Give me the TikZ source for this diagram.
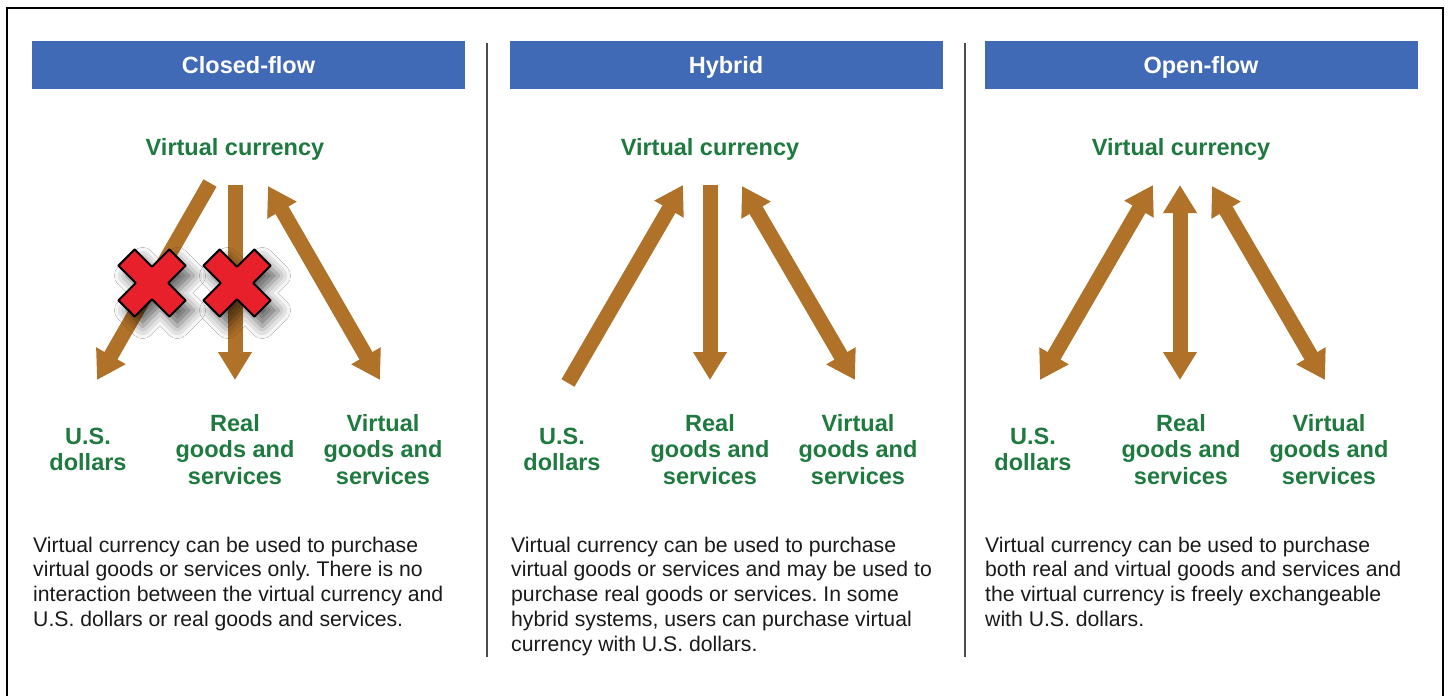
\documentclass[tikz,border=0pt]{standalone}
\usepackage{fontspec}
\setmainfont{Liberation Sans}
\usetikzlibrary{arrows.meta,shadows.blur}
\definecolor{hdrblue}{RGB}{65,106,182}
\definecolor{lblgreen}{RGB}{30,122,62}
\definecolor{arrbrown}{RGB}{176,113,40}
\definecolor{xred}{RGB}{232,32,44}
\definecolor{bodytext}{RGB}{26,26,26}
\frenchspacing
\begin{document}
\begin{tikzpicture}[x=1pt,y=-1pt,
  hdr/.style={fill=hdrblue,text=white,font=\fontsize{23.5}{28}\selectfont\bfseries,
    minimum width=433pt,minimum height=48pt,inner sep=0pt,text height=17pt,text depth=0pt},
  vclabel/.style={text=lblgreen,font=\fontsize{23.5}{26.5}\selectfont\bfseries,inner sep=0pt},
  dest/.style={text=lblgreen,font=\fontsize{23.5}{26.5}\selectfont\bfseries,align=center,inner sep=0pt},
  body/.style={text=bodytext,font=\fontsize{21.2}{24.8}\selectfont,align=left,inner sep=0pt,anchor=north west},
  flow/.style={draw=arrbrown,line width=15pt},
  tip/.tip={Triangle[width=32pt,length=28pt]},
  oneway/.style={flow,-tip},
  twoway/.style={flow,tip-tip},
  divider/.style={draw=black!70,line width=1.5pt},
  xmark/.style={fill=xred,draw=black,line width=2pt,line join=round,
    blur shadow={shadow xshift=8pt,shadow yshift=-10pt,shadow blur radius=12pt,shadow opacity=60}}
]
\useasboundingbox (0,0) rectangle (1449,696);
\fill[white] (0,0) rectangle (1449,696);
% outer frame
\draw[line width=2.5pt] (7,700) -- (7,8) -- (1443,8) -- (1443,700);

% dividers
\coordinate (d1t) at (487,43); \coordinate (d1b) at (487,657);
\coordinate (d2t) at (965,43); \coordinate (d2b) at (965,657);
\draw[divider] (d1t) -- (d1b);
\draw[divider] (d2t) -- (d2b);

% headers
\node[hdr] (hc) at (248.5,64.5) {Closed-flow};
\node[hdr] (hh) at (726,64.5) {Hybrid};
\node[hdr] (ho) at (1201,64.5) {Open-flow};

% top labels
\node[vclabel] (vc1) at (235,149) {Virtual currency};
\node[vclabel] (vc2) at (710,149) {Virtual currency};
\node[vclabel] (vc3) at (1181,149) {Virtual currency};

% bottom labels
\node[dest] (us1) at (88,449.5) {U.S.\\dollars};
\node[dest] (rg1) at (235,449.5) {Real\\goods and\\services};
\node[dest] (vg1) at (383,449.5) {Virtual\\goods and\\services};
\node[dest] (us2) at (562,449.5) {U.S.\\dollars};
\node[dest] (rg2) at (710,449.5) {Real\\goods and\\services};
\node[dest] (vg2) at (858,449.5) {Virtual\\goods and\\services};
\node[dest] (us3) at (1033,449.5) {U.S.\\dollars};
\node[dest] (rg3) at (1181,449.5) {Real\\goods and\\services};
\node[dest] (vg3) at (1329,449.5) {Virtual\\goods and\\services};

% arrow end points
\coordinate (c1t) at (210,183); \coordinate (c1b) at (97,380);
\coordinate (c2t) at (235,185); \coordinate (c2b) at (235,380);
\coordinate (c3t) at (268,186); \coordinate (c3b) at (380,380);
\coordinate (h1t) at (683,185); \coordinate (h1b) at (568,383);
\coordinate (h2t) at (710,185); \coordinate (h2b) at (710,380);
\coordinate (h3t) at (742,186); \coordinate (h3b) at (855,380);
\coordinate (o1t) at (1153,185); \coordinate (o1b) at (1040,380);
\coordinate (o2t) at (1180,185); \coordinate (o2b) at (1180,380);
\coordinate (o3t) at (1212,186); \coordinate (o3b) at (1325,380);

% closed-flow arrows
\draw[oneway] (c1t) -- (c1b);
\draw[oneway] (c2t) -- (c2b);
\draw[twoway] (c3t) -- (c3b);
% hybrid arrows
\draw[oneway] (h1b) -- (h1t);
\draw[oneway] (h2t) -- (h2b);
\draw[twoway] (h3t) -- (h3b);
% open-flow arrows
\draw[twoway] (o1t) -- (o1b);
\draw[twoway] (o2t) -- (o2b);
\draw[twoway] (o3t) -- (o3b);

% red crosses
\foreach \cx in {152,237}{
  \begin{scope}[shift={(\cx,283)},rotate=45]
    \path[xmark] (11.5,36) -- (11.5,11.5) -- (36,11.5) -- (36,-11.5) -- (11.5,-11.5) -- (11.5,-36)
      -- (-11.5,-36) -- (-11.5,-11.5) -- (-36,-11.5) -- (-36,11.5) -- (-11.5,11.5) -- (-11.5,36) -- cycle;
  \end{scope}
}

% body texts
\node[body] (t1) at (33,536.5) {Virtual currency can be used to purchase\\virtual goods or services only. There is no\\interaction between the virtual currency and\\U.S. dollars or real goods and services.};
\node[body] (t2) at (511,536.5) {Virtual currency can be used to purchase\\virtual goods or services and may be used to\\purchase real goods or services. In some\\hybrid systems, users can purchase virtual\\currency with U.S. dollars.};
\node[body] (t3) at (985,536.5) {Virtual currency can be used to purchase\\both real and virtual goods and services and\\the virtual currency is freely exchangeable\\with U.S. dollars.};
\end{tikzpicture}
\end{document}
